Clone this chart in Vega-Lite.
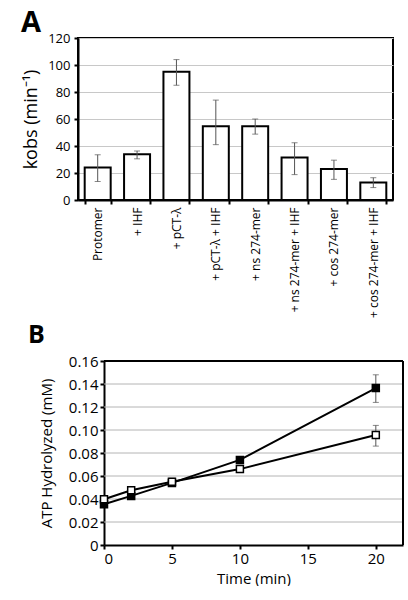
{
  "$schema": "https://vega.github.io/schema/vega-lite/v6.json",
  "padding": {"left": 20, "top": 8, "right": 0, "bottom": 0},
  "autosize": {"type": "pad"},
  "background": "white",
  "config": {
    "font": "Open Sans",
    "view": {"stroke": "black", "strokeWidth": 2},
    "axis": {
      "domainColor": "black", "domainWidth": 2,
      "tickColor": "black", "tickWidth": 2, "tickSize": 4,
      "gridColor": "#c8c8c8", "gridWidth": 1,
      "labelColor": "black", "titleColor": "black",
      "titleFontWeight": "normal", "labelFont": "Open Sans", "titleFont": "Open Sans"
    },
    "title": {"font": "Open Sans", "color": "black", "baseline": "alphabetic", "anchor": "start", "frame": "group"}
  },
  "spacing": 4,
  "vconcat": [
    {
      "title": {"text": "A", "fontSize": 29, "fontWeight": "bold", "dx": -57, "offset": -6},
      "width": 315,
      "height": 162,
      "data": {"values": [
        {"condition": "Protomer", "kobs": 24, "lo": 13.7, "hi": 33.5},
        {"condition": "+ IHF", "kobs": 33.8, "lo": 30.5, "hi": 36.3},
        {"condition": "+ pCT-λ", "kobs": 95, "lo": 85, "hi": 104},
        {"condition": "+ pCT-λ + IHF", "kobs": 54.7, "lo": 41, "hi": 74},
        {"condition": "+ ns 274-mer", "kobs": 54.7, "lo": 48.8, "hi": 60},
        {"condition": "+ ns 274-mer + IHF", "kobs": 31.4, "lo": 18.8, "hi": 42.4},
        {"condition": "+ cos 274-mer", "kobs": 23, "lo": 15.3, "hi": 29.5},
        {"condition": "+ cos 274-mer + IHF", "kobs": 13, "lo": 9.2, "hi": 16.5}
      ]},
      "encoding": {
        "x": {
          "field": "condition", "type": "nominal", "sort": null,
          "scale": {"paddingInner": 0.34, "paddingOuter": 0.17},
          "axis": {"title": null, "labelAngle": -90, "labelFontSize": 12, "labelPadding": 3, "tickBand": "extent", "grid": false}
        }
      },
      "layer": [
        {
          "mark": {"type": "bar", "fill": "white", "stroke": "black", "strokeWidth": 2},
          "encoding": {
            "y": {
              "field": "kobs", "type": "quantitative",
              "scale": {"domain": [0, 120], "nice": false},
              "axis": {"title": "kobs (min⁻¹)", "values": [0, 20, 40, 60, 80, 100, 120], "labelOverlap": false, "labelFontSize": 13, "labelPadding": 4, "titleFontSize": 18, "titlePadding": 7, "grid": true}
            }
          }
        },
        {
          "mark": {"type": "errorbar", "ticks": {"size": 6, "color": "#555", "thickness": 1}, "rule": {"color": "#555", "strokeWidth": 1}},
          "encoding": {
            "y": {
              "field": "lo", "type": "quantitative",
              "scale": {"domain": [0, 120], "nice": false},
              "axis": {"title": "kobs (min⁻¹)", "values": [0, 20, 40, 60, 80, 100, 120], "labelOverlap": false, "labelFontSize": 13, "labelPadding": 4, "titleFontSize": 18, "titlePadding": 7, "grid": true}
            },
            "y2": {"field": "hi"}
          }
        }
      ]
    },
    {
      "title": {"text": "B", "fontSize": 25, "fontWeight": "bold", "dx": -50, "offset": 6},
      "width": 325,
      "height": 184,
      "view": {"stroke": null},
      "data": {"values": [
        {"series": "filled", "time": 0, "atp": 0.0354, "lo": 0.0335, "hi": 0.0373},
        {"series": "filled", "time": 2, "atp": 0.0427, "lo": 0.041, "hi": 0.0444},
        {"series": "filled", "time": 5, "atp": 0.054, "lo": 0.0515, "hi": 0.0565},
        {"series": "filled", "time": 10, "atp": 0.074, "lo": 0.0725, "hi": 0.0755},
        {"series": "filled", "time": 20, "atp": 0.1365, "lo": 0.124, "hi": 0.148},
        {"series": "open", "time": 0, "atp": 0.0398, "lo": 0.038, "hi": 0.0416},
        {"series": "open", "time": 2, "atp": 0.0476, "lo": 0.0452, "hi": 0.05},
        {"series": "open", "time": 5, "atp": 0.055, "lo": 0.052, "hi": 0.058},
        {"series": "open", "time": 10, "atp": 0.066, "lo": 0.063, "hi": 0.069},
        {"series": "open", "time": 20, "atp": 0.0957, "lo": 0.086, "hi": 0.104}
      ]},
      "layer": [
        {"data": {"values": [{"g": 1}]}, "mark": {"type": "rule", "color": "#b4b4b4", "strokeWidth": 1},
          "encoding": {"x": {"datum": 0, "type": "quantitative", "scale": {"domain": [0, 22], "nice": false, "range": [26, 325]}, "axis": {"title": "Time (min)", "values": [0, 5, 10, 15, 20], "labelFontSize": 15, "titleFontSize": 15, "labelPadding": 2, "titlePadding": 5, "grid": false}}, "x2": {"datum": 22},
            "y": {"datum": 0.02, "type": "quantitative", "scale": {"domain": [0, 0.16], "nice": false}, "axis": {"title": "ATP Hydrolyzed (mM)", "offset": -26, "values": [0, 0.02, 0.04, 0.06, 0.08, 0.1, 0.12, 0.14, 0.16], "labelOverlap": false, "labelExpr": "datum.value == 0 ? '0' : format(datum.value, '.2f')", "labelFontSize": 15, "titleFontSize": 15, "labelPadding": 2, "titlePadding": 14, "grid": false}}}},
        {"data": {"values": [{"g": 2}]}, "mark": {"type": "rule", "color": "#b4b4b4", "strokeWidth": 1},
          "encoding": {"x": {"datum": 0, "type": "quantitative", "scale": {"domain": [0, 22], "nice": false, "range": [26, 325]}, "axis": {"title": "Time (min)", "values": [0, 5, 10, 15, 20], "labelFontSize": 15, "titleFontSize": 15, "labelPadding": 2, "titlePadding": 5, "grid": false}}, "x2": {"datum": 22},
            "y": {"datum": 0.04, "type": "quantitative", "scale": {"domain": [0, 0.16], "nice": false}, "axis": {"title": "ATP Hydrolyzed (mM)", "offset": -26, "values": [0, 0.02, 0.04, 0.06, 0.08, 0.1, 0.12, 0.14, 0.16], "labelOverlap": false, "labelExpr": "datum.value == 0 ? '0' : format(datum.value, '.2f')", "labelFontSize": 15, "titleFontSize": 15, "labelPadding": 2, "titlePadding": 14, "grid": false}}}},
        {"data": {"values": [{"g": 3}]}, "mark": {"type": "rule", "color": "#b4b4b4", "strokeWidth": 1},
          "encoding": {"x": {"datum": 0, "type": "quantitative", "scale": {"domain": [0, 22], "nice": false, "range": [26, 325]}, "axis": {"title": "Time (min)", "values": [0, 5, 10, 15, 20], "labelFontSize": 15, "titleFontSize": 15, "labelPadding": 2, "titlePadding": 5, "grid": false}}, "x2": {"datum": 22},
            "y": {"datum": 0.06, "type": "quantitative", "scale": {"domain": [0, 0.16], "nice": false}, "axis": {"title": "ATP Hydrolyzed (mM)", "offset": -26, "values": [0, 0.02, 0.04, 0.06, 0.08, 0.1, 0.12, 0.14, 0.16], "labelOverlap": false, "labelExpr": "datum.value == 0 ? '0' : format(datum.value, '.2f')", "labelFontSize": 15, "titleFontSize": 15, "labelPadding": 2, "titlePadding": 14, "grid": false}}}},
        {"data": {"values": [{"g": 4}]}, "mark": {"type": "rule", "color": "#b4b4b4", "strokeWidth": 1},
          "encoding": {"x": {"datum": 0, "type": "quantitative", "scale": {"domain": [0, 22], "nice": false, "range": [26, 325]}, "axis": {"title": "Time (min)", "values": [0, 5, 10, 15, 20], "labelFontSize": 15, "titleFontSize": 15, "labelPadding": 2, "titlePadding": 5, "grid": false}}, "x2": {"datum": 22},
            "y": {"datum": 0.08, "type": "quantitative", "scale": {"domain": [0, 0.16], "nice": false}, "axis": {"title": "ATP Hydrolyzed (mM)", "offset": -26, "values": [0, 0.02, 0.04, 0.06, 0.08, 0.1, 0.12, 0.14, 0.16], "labelOverlap": false, "labelExpr": "datum.value == 0 ? '0' : format(datum.value, '.2f')", "labelFontSize": 15, "titleFontSize": 15, "labelPadding": 2, "titlePadding": 14, "grid": false}}}},
        {"data": {"values": [{"g": 5}]}, "mark": {"type": "rule", "color": "#b4b4b4", "strokeWidth": 1},
          "encoding": {"x": {"datum": 0, "type": "quantitative", "scale": {"domain": [0, 22], "nice": false, "range": [26, 325]}, "axis": {"title": "Time (min)", "values": [0, 5, 10, 15, 20], "labelFontSize": 15, "titleFontSize": 15, "labelPadding": 2, "titlePadding": 5, "grid": false}}, "x2": {"datum": 22},
            "y": {"datum": 0.1, "type": "quantitative", "scale": {"domain": [0, 0.16], "nice": false}, "axis": {"title": "ATP Hydrolyzed (mM)", "offset": -26, "values": [0, 0.02, 0.04, 0.06, 0.08, 0.1, 0.12, 0.14, 0.16], "labelOverlap": false, "labelExpr": "datum.value == 0 ? '0' : format(datum.value, '.2f')", "labelFontSize": 15, "titleFontSize": 15, "labelPadding": 2, "titlePadding": 14, "grid": false}}}},
        {"data": {"values": [{"g": 6}]}, "mark": {"type": "rule", "color": "#b4b4b4", "strokeWidth": 1},
          "encoding": {"x": {"datum": 0, "type": "quantitative", "scale": {"domain": [0, 22], "nice": false, "range": [26, 325]}, "axis": {"title": "Time (min)", "values": [0, 5, 10, 15, 20], "labelFontSize": 15, "titleFontSize": 15, "labelPadding": 2, "titlePadding": 5, "grid": false}}, "x2": {"datum": 22},
            "y": {"datum": 0.12, "type": "quantitative", "scale": {"domain": [0, 0.16], "nice": false}, "axis": {"title": "ATP Hydrolyzed (mM)", "offset": -26, "values": [0, 0.02, 0.04, 0.06, 0.08, 0.1, 0.12, 0.14, 0.16], "labelOverlap": false, "labelExpr": "datum.value == 0 ? '0' : format(datum.value, '.2f')", "labelFontSize": 15, "titleFontSize": 15, "labelPadding": 2, "titlePadding": 14, "grid": false}}}},
        {"data": {"values": [{"g": 7}]}, "mark": {"type": "rule", "color": "#b4b4b4", "strokeWidth": 1},
          "encoding": {"x": {"datum": 0, "type": "quantitative", "scale": {"domain": [0, 22], "nice": false, "range": [26, 325]}, "axis": {"title": "Time (min)", "values": [0, 5, 10, 15, 20], "labelFontSize": 15, "titleFontSize": 15, "labelPadding": 2, "titlePadding": 5, "grid": false}}, "x2": {"datum": 22},
            "y": {"datum": 0.14, "type": "quantitative", "scale": {"domain": [0, 0.16], "nice": false}, "axis": {"title": "ATP Hydrolyzed (mM)", "offset": -26, "values": [0, 0.02, 0.04, 0.06, 0.08, 0.1, 0.12, 0.14, 0.16], "labelOverlap": false, "labelExpr": "datum.value == 0 ? '0' : format(datum.value, '.2f')", "labelFontSize": 15, "titleFontSize": 15, "labelPadding": 2, "titlePadding": 14, "grid": false}}}},
        {
          "data": {"values": [{"edge": "top"}]},
          "mark": {"type": "rule", "color": "black", "strokeWidth": 2},
          "encoding": {
            "x": {"datum": 0, "type": "quantitative", "scale": {"domain": [0, 22], "nice": false, "range": [26, 325]},
              "axis": {"title": "Time (min)", "values": [0, 5, 10, 15, 20], "labelFontSize": 15, "titleFontSize": 15, "labelPadding": 2, "titlePadding": 5, "grid": false}},
            "x2": {"datum": 22},
            "y": {"datum": 0.16, "type": "quantitative",
              "scale": {"domain": [0, 0.16], "nice": false},
              "axis": {"title": "ATP Hydrolyzed (mM)", "offset": -26, "values": [0, 0.02, 0.04, 0.06, 0.08, 0.1, 0.12, 0.14, 0.16], "labelOverlap": false, "labelExpr": "datum.value == 0 ? '0' : format(datum.value, '.2f')", "labelFontSize": 15, "titleFontSize": 15, "labelPadding": 2, "titlePadding": 14, "grid": false}}
          }
        },
        {
          "data": {"values": [{"edge": "right"}]},
          "mark": {"type": "rule", "color": "black", "strokeWidth": 2},
          "encoding": {
            "x": {"datum": 22, "type": "quantitative", "scale": {"domain": [0, 22], "nice": false, "range": [26, 325]},
              "axis": {"title": "Time (min)", "values": [0, 5, 10, 15, 20], "labelFontSize": 15, "titleFontSize": 15, "labelPadding": 2, "titlePadding": 5, "grid": false}},
            "y": {"datum": 0, "type": "quantitative",
              "scale": {"domain": [0, 0.16], "nice": false},
              "axis": {"title": "ATP Hydrolyzed (mM)", "offset": -26, "values": [0, 0.02, 0.04, 0.06, 0.08, 0.1, 0.12, 0.14, 0.16], "labelOverlap": false, "labelExpr": "datum.value == 0 ? '0' : format(datum.value, '.2f')", "labelFontSize": 15, "titleFontSize": 15, "labelPadding": 2, "titlePadding": 14, "grid": false}},
            "y2": {"datum": 0.16}
          }
        },
        {
          "mark": {"type": "errorbar", "ticks": {"size": 6, "color": "#555", "thickness": 1}, "rule": {"color": "#555", "strokeWidth": 1}},
          "encoding": {
            "x": {"field": "time", "type": "quantitative", "scale": {"domain": [0, 22], "nice": false, "range": [26, 325]},
              "axis": {"title": "Time (min)", "values": [0, 5, 10, 15, 20], "labelFontSize": 15, "titleFontSize": 15, "labelPadding": 2, "titlePadding": 5, "grid": false}},
            "y": {
              "field": "lo", "type": "quantitative",
              "scale": {"domain": [0, 0.16], "nice": false},
              "axis": {"title": "ATP Hydrolyzed (mM)", "offset": -26, "values": [0, 0.02, 0.04, 0.06, 0.08, 0.1, 0.12, 0.14, 0.16], "labelOverlap": false, "labelExpr": "datum.value == 0 ? '0' : format(datum.value, '.2f')", "labelFontSize": 15, "titleFontSize": 15, "labelPadding": 2, "titlePadding": 14, "grid": false}
            },
            "y2": {"field": "hi"},
            "detail": {"field": "series"}
          }
        },
        {
          "mark": {"type": "line", "color": "black", "strokeWidth": 2},
          "encoding": {
            "x": {"field": "time", "type": "quantitative", "scale": {"domain": [0, 22], "nice": false, "range": [26, 325]},
              "axis": {"title": "Time (min)", "values": [0, 5, 10, 15, 20], "labelFontSize": 15, "titleFontSize": 15, "labelPadding": 2, "titlePadding": 5, "grid": false}},
            "y": {
              "field": "atp", "type": "quantitative",
              "scale": {"domain": [0, 0.16], "nice": false},
              "axis": {"title": "ATP Hydrolyzed (mM)", "offset": -26, "values": [0, 0.02, 0.04, 0.06, 0.08, 0.1, 0.12, 0.14, 0.16], "labelOverlap": false, "labelExpr": "datum.value == 0 ? '0' : format(datum.value, '.2f')", "labelFontSize": 15, "titleFontSize": 15, "labelPadding": 2, "titlePadding": 14, "grid": false}
            },
            "detail": {"field": "series"}
          }
        },
        {
          "mark": {"type": "point", "shape": "square", "size": 49, "stroke": "black", "strokeWidth": 1.5, "opacity": 1, "filled": false},
          "encoding": {
            "x": {"field": "time", "type": "quantitative", "scale": {"domain": [0, 22], "nice": false, "range": [26, 325]},
              "axis": {"title": "Time (min)", "values": [0, 5, 10, 15, 20], "labelFontSize": 15, "titleFontSize": 15, "labelPadding": 2, "titlePadding": 5, "grid": false}},
            "y": {
              "field": "atp", "type": "quantitative",
              "scale": {"domain": [0, 0.16], "nice": false},
              "axis": {"title": "ATP Hydrolyzed (mM)", "offset": -26, "values": [0, 0.02, 0.04, 0.06, 0.08, 0.1, 0.12, 0.14, 0.16], "labelOverlap": false, "labelExpr": "datum.value == 0 ? '0' : format(datum.value, '.2f')", "labelFontSize": 15, "titleFontSize": 15, "labelPadding": 2, "titlePadding": 14, "grid": false}
            },
            "fill": {"field": "series", "type": "nominal", "scale": {"domain": ["filled", "open"], "range": ["black", "white"]}, "legend": null}
          }
        }
      ]
    }
  ]
}
